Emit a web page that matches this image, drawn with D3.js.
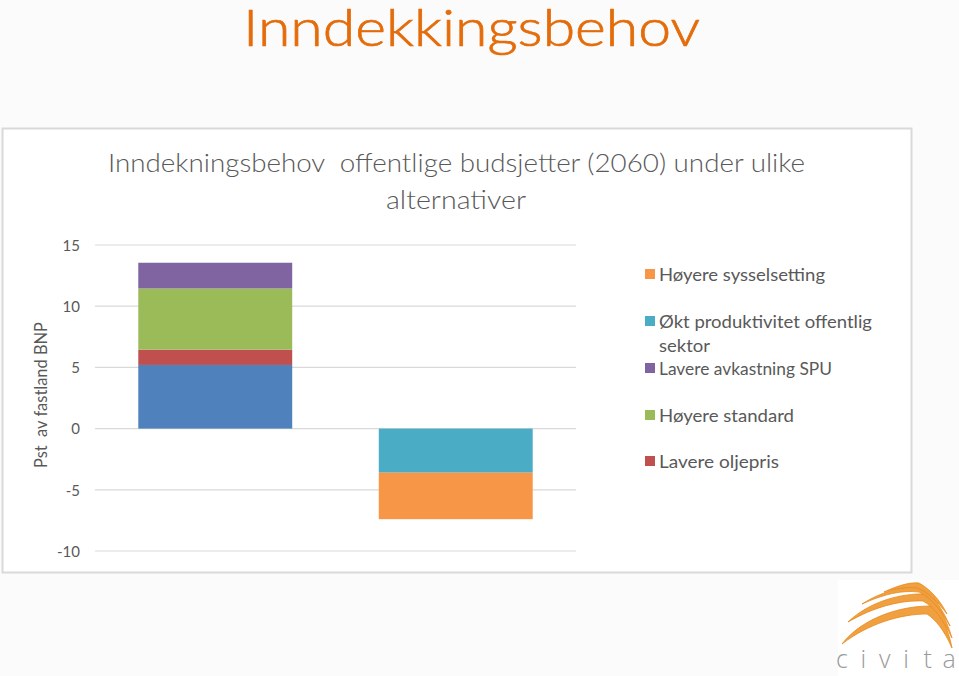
<!DOCTYPE html>
<html>
<head>
<meta charset="utf-8">
<script src="https://cdn.jsdelivr.net/npm/d3@7"></script>
<style>
  html, body { margin: 0; padding: 0; background: #fbfbfb; }
  svg { display: block; }
  text { white-space: pre; }
</style>
</head>
<body>
<svg id="chart" width="959" height="676"></svg>
<script>
// ---- DATA ----
const categories = ["Økt inndekningsbehov", "Redusert inndekningsbehov"];
const seriesNames = ["Basisforløp", "Lavere oljepris", "Høyere standard", "Lavere avkastning SPU", "Økt produktivitet offentlig sektor", "Høyere sysselsetting"];
const basisforlop = [5.2, 0];
const lavereOljepris = [1.25, 0];
const hoyereStandard = [5.0, 0];
const lavereAvkastningSPU = [2.1, 0];
const oktProduktivitet = [0, -3.6];
const hoyereSysselsetting = [0, -3.8];
const yTicks = [-10, -5, 0, 5, 10, 15];
const legendOrder = ["Høyere sysselsetting", "Økt produktivitet offentlig sektor", "Lavere avkastning SPU", "Høyere standard", "Lavere oljepris"];
const logoLetters = ["c", "i", "v", "i", "t", "a"];

const seriesValues = [basisforlop, lavereOljepris, hoyereStandard, lavereAvkastningSPU, oktProduktivitet, hoyereSysselsetting];
const colors = {
  "Basisforløp": "#4f81bd",
  "Lavere oljepris": "#c0504d",
  "Høyere standard": "#9bbb59",
  "Lavere avkastning SPU": "#8064a2",
  "Økt produktivitet offentlig sektor": "#4bacc6",
  "Høyere sysselsetting": "#f79646"
};

const table = categories.map((c, i) => {
  const row = { category: c };
  seriesNames.forEach((s, j) => row[s] = seriesValues[j][i]);
  return row;
});

const svg = d3.select("#chart");

// Main slide title
svg.append("text")
  .attr("x", 243).attr("y", 46)
  .attr("font-family", "Lato, sans-serif")
  .attr("font-weight", 300)
  .attr("font-size", 51)
  .attr("fill", "#e46c0a")
  .attr("stroke", "#e46c0a").attr("stroke-width", 0.7)
  .attr("textLength", 457).attr("lengthAdjust", "spacingAndGlyphs")
  .text("Inndekkingsbehov");

// Chart frame
svg.append("rect")
  .attr("x", 2.5).attr("y", 128.5).attr("width", 909).attr("height", 444)
  .attr("fill", "#ffffff").attr("stroke", "#d9d9d9").attr("stroke-width", 2);

// Chart title
svg.append("text")
  .attr("x", 108).attr("y", 172)
  .attr("font-family", "Lato, sans-serif")
  .attr("font-weight", 300)
  .attr("font-size", 25)
  .attr("fill", "#595959")
  .attr("textLength", 697).attr("lengthAdjust", "spacingAndGlyphs")
  .text("Inndekningsbehov  offentlige budsjetter (2060) under ulike");
svg.append("text")
  .attr("x", 386).attr("y", 209)
  .attr("font-family", "Lato, sans-serif")
  .attr("font-weight", 300)
  .attr("font-size", 25)
  .attr("fill", "#595959")
  .attr("textLength", 140).attr("lengthAdjust", "spacingAndGlyphs")
  .text("alternativer");

// Scales
const y = d3.scaleLinear().domain([-10, 15]).range([551, 245]);
const x = d3.scaleBand().domain(categories).range([95, 576]).paddingInner(0.36).paddingOuter(0.18);

// Gridlines
svg.append("g").selectAll("line").data(yTicks).join("line")
  .attr("x1", 95).attr("x2", 576)
  .attr("y1", d => y(d)).attr("y2", d => y(d))
  .attr("stroke", "#d9d9d9").attr("stroke-width", 1.2);

// Y axis via d3.axisLeft
const yAxis = svg.append("g")
  .attr("transform", "translate(86,0)")
  .call(d3.axisLeft(y).tickValues(yTicks).tickSize(0).tickPadding(6).tickFormat(d => String(d)));
yAxis.select(".domain").remove();
yAxis.selectAll("text")
  .attr("font-family", "Lato, sans-serif")
  .attr("font-size", 15)
  .attr("fill", "#595959")
  .attr("dy", "0.35em");

// Y axis title
svg.append("text")
  .attr("transform", "translate(47,468) rotate(-90)")
  .attr("font-family", "Lato, sans-serif")
  .attr("font-size", 17)
  .attr("fill", "#595959")
  .attr("textLength", 146).attr("lengthAdjust", "spacingAndGlyphs")
  .text("Pst  av fastland BNP");

// Stacked bars
const stack = d3.stack().keys(seriesNames).offset(d3.stackOffsetDiverging);
const stacked = stack(table);
svg.append("g").selectAll("g").data(stacked).join("g")
  .attr("fill", d => colors[d.key])
  .selectAll("rect").data(d => d).join("rect")
  .attr("x", d => x(d.data.category))
  .attr("width", x.bandwidth())
  .attr("y", d => y(Math.max(d[0], d[1])))
  .attr("height", d => Math.abs(y(d[0]) - y(d[1])));

// Legend
const legendBase = [281, 328, 375, 422, 468];
const legendWidths = {
  "Høyere sysselsetting": [166],
  "Økt produktivitet offentlig sektor": [213, 51],
  "Lavere avkastning SPU": [173],
  "Høyere standard": [135],
  "Lavere oljepris": [120]
};
const lg = svg.append("g");
legendOrder.forEach((name, i) => {
  const g = lg.append("g").attr("transform", `translate(645,${legendBase[i]})`);
  g.append("rect").attr("x", 0).attr("y", -12).attr("width", 10).attr("height", 10).attr("fill", colors[name]);
  const lines = name === "Økt produktivitet offentlig sektor"
    ? ["Økt produktivitet offentlig", "sektor"] : [name];
  lines.forEach((ln, k) => {
    g.append("text")
      .attr("x", 14).attr("y", k * 24)
      .attr("font-family", "Lato, sans-serif")
      .attr("font-size", 17)
      .attr("fill", "#595959")
      .attr("textLength", legendWidths[name][k]).attr("lengthAdjust", "spacingAndGlyphs")
      .text(ln);
  });
});

// Civita logo
const logo = svg.append("g");
logo.append("rect").attr("x", 838).attr("y", 580).attr("width", 121).attr("height", 96).attr("fill", "#ffffff");
const swirls = [
  "M842,644 C862,618 900,606 930,606 C943,616 949,632 952,648 C944,630 936,620 927,614 C900,614 868,624 842,644 Z",
  "M848,622 C870,601 902,593 926,594 C938,603 946,618 952,638 C943,619 934,607 923,601 C900,600 874,607 848,622 Z",
  "M862,604 C882,591 905,586 921,586 C932,594 942,608 950,626 C940,608 930,597 919,592 C902,590 884,594 862,604 Z",
  "M884,592 C899,585 911,582 919,583 C930,589 940,600 947,614 C937,601 928,592 917,588 C906,587 896,588 884,592 Z"
];
logo.selectAll("path").data(swirls).join("path")
  .attr("d", d => d).attr("fill", "#f0a040").attr("stroke", "#e88a1a").attr("stroke-width", 0.8);
const letterX = d3.scalePoint().domain(d3.range(logoLetters.length)).range([842, 949]);
logo.selectAll("text").data(logoLetters).join("text")
  .attr("x", (d, i) => letterX(i)).attr("y", 668)
  .attr("text-anchor", "middle")
  .attr("font-family", "'Open Sans', sans-serif")
  .attr("font-weight", 300)
  .attr("font-size", 25)
  .attr("fill", "#9a9a9a")
  .text(d => d);
</script>
</body>
</html>
